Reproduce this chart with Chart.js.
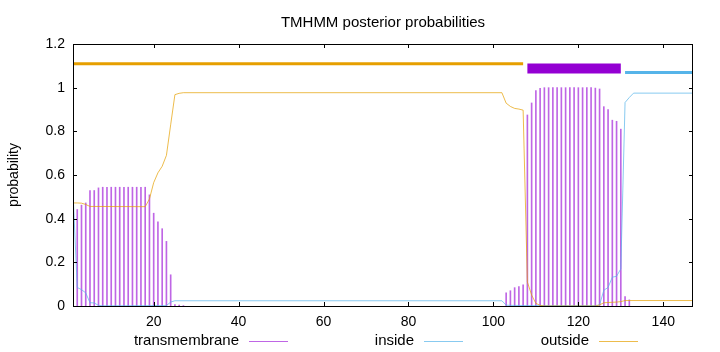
<!DOCTYPE html>
<html>
<head>
<meta charset="utf-8">
<script src="https://cdn.jsdelivr.net/npm/chart.js"></script>
<style>
  html, body { margin: 0; padding: 0; background: #fff; }
  canvas { display: block; }
</style>
</head>
<body>
<canvas id="c" width="720" height="352"></canvas>
<script>
// residue positions and transmembrane posterior (drawn as impulses)
const tmRes = [2, 3, 4, 5, 6, 7, 8, 9, 10, 11, 12, 13, 14, 15, 16, 17, 18, 19, 20, 21, 22, 23, 24, 25, 26, 27,
  103, 104, 105, 106, 107, 108, 109, 110, 111, 112, 113, 114, 115, 116, 117, 118, 119, 120, 121, 122, 123,
  124, 125, 126, 127, 128, 129, 130, 131, 132];
const tmProb = [0.442, 0.462, 0.472, 0.529, 0.529, 0.541, 0.544, 0.544, 0.544, 0.544, 0.544, 0.544, 0.544,
  0.544, 0.544, 0.544, 0.544, 0.509, 0.425, 0.385, 0.354, 0.296, 0.143, 0.006, 0.004, 0.002,
  0.06, 0.07, 0.084, 0.089, 0.097, 0.875, 0.93, 0.987, 0.997, 1.0, 1.0, 1.0, 1.0, 1.0, 1.0, 1.0, 1.0, 1.0,
  1.0, 1.0, 1.0, 0.998, 0.994, 0.913, 0.9, 0.851, 0.846, 0.81, 0.043, 0.028];

// inside posterior
const inRes = [1, 2, 3, 4, 5, 6, 7, 8, 23, 24, 25, 102, 103, 104, 108, 124, 125, 126, 127, 128, 129, 130, 131, 132, 133, 147];
const inProb = [0.52, 0.085, 0.075, 0.06, 0.015, 0.014, 0.003, 0.001, 0.002, 0.018, 0.024, 0.024, 0.004, 0.003,
  0.002, 0.002, 0.005, 0.072, 0.085, 0.132, 0.136, 0.17, 0.932, 0.955, 0.975, 0.975];

// outside posterior
const outRes = [1, 2, 3, 4, 5, 18, 19, 20, 21, 22, 23, 24, 25, 26, 27, 102, 103, 104, 105, 106, 107, 108, 109,
  110, 111, 112, 124, 125, 126, 127, 128, 129, 130, 131, 147];
const outProb = [0.472, 0.472, 0.471, 0.465, 0.456, 0.455, 0.49, 0.565, 0.61, 0.64, 0.69, 0.83, 0.968, 0.974,
  0.977, 0.977, 0.929, 0.914, 0.905, 0.902, 0.897, 0.11, 0.05, 0.012, 0.003, 0.0, 0.0, 0.005, 0.015, 0.016,
  0.017, 0.018, 0.02, 0.025, 0.025];

// predicted topology segments [start, end]
const outsideSeg = [1, 107];
const tmSeg = [108, 130];
const insideSeg = [131, 147];
const segLevel = { outside: 1.109, tm: 1.088, inside: 1.069 };

const xTicks = [20, 40, 60, 80, 100, 120, 140];
const yTicks = [0, 0.2, 0.4, 0.6, 0.8, 1, 1.2];
const legendNames = ['transmembrane', 'inside', 'outside'];

const FONT = '"Liberation Sans", Arial, sans-serif';
const cTM = 'rgba(148,0,211,0.6)';
const cIn = 'rgba(86,180,233,0.7)';
const cOut = 'rgba(230,159,0,0.7)';

const pts = (xs, ys) => xs.map((x, i) => ({ x, y: ys[i] }));
const seg = (s, y) => [{ x: s[0], y }, { x: s[1], y }];

const frame = {
  id: 'frame',
  afterDraw(chart) {
    const { ctx, chartArea: a, scales } = chart;
    ctx.save();
    // border
    ctx.strokeStyle = '#000';
    ctx.lineWidth = 1;
    ctx.strokeRect(a.left + 0.5, a.top + 0.5, a.right - a.left - 1, a.bottom - a.top);
    // inward ticks, mirrored
    ctx.beginPath();
    xTicks.forEach(v => {
      const x = Math.round(scales.x.getPixelForValue(v)) + 0.5;
      ctx.moveTo(x, a.bottom); ctx.lineTo(x, a.bottom - 4);
      ctx.moveTo(x, a.top); ctx.lineTo(x, a.top + 4);
    });
    yTicks.forEach(v => {
      const y = Math.round(scales.y.getPixelForValue(v)) + 0.5;
      ctx.moveTo(a.left, y); ctx.lineTo(a.left + 4, y);
      ctx.moveTo(a.right, y); ctx.lineTo(a.right - 4, y);
    });
    ctx.stroke();

    ctx.fillStyle = '#000';
    ctx.textBaseline = 'middle';
    // title
    ctx.font = '15px ' + FONT;
    ctx.textAlign = 'center';
    ctx.fillText('TMHMM posterior probabilities', (a.left + a.right) / 2, 23);
    // y label
    ctx.font = '14px ' + FONT;
    ctx.save();
    ctx.translate(14, (a.top + a.bottom) / 2);
    ctx.rotate(-Math.PI / 2);
    ctx.fillText('probability', 0, 0);
    ctx.restore();
    // legend (text then sample, gnuplot style)
    ctx.font = '15px ' + FONT;
    const items = [
      { x: 249, c: cTM },
      { x: 424, c: cIn },
      { x: 599, c: cOut }
    ];
    ctx.textAlign = 'right';
    items.forEach((it, i) => {
      ctx.fillStyle = '#000';
      ctx.fillText(legendNames[i], it.x - 10, 341);
      ctx.strokeStyle = it.c;
      ctx.beginPath();
      ctx.moveTo(it.x, 341.5); ctx.lineTo(it.x + 39, 341.5);
      ctx.stroke();
    });
    ctx.restore();
  }
};

new Chart(document.getElementById('c'), {
  data: {
    datasets: [
      { type: 'line', data: seg(outsideSeg, segLevel.outside), borderColor: '#e69f00', borderWidth: 3, pointRadius: 0, borderCapStyle: 'butt' },
      { type: 'line', data: seg(tmSeg, segLevel.tm), borderColor: '#9400d3', borderWidth: 10, pointRadius: 0, borderCapStyle: 'butt' },
      { type: 'line', data: seg(insideSeg, segLevel.inside), borderColor: '#56b4e9', borderWidth: 3, pointRadius: 0, borderCapStyle: 'butt' },
      { type: 'line', data: pts(outRes, outProb), borderColor: cOut, borderWidth: 1, pointRadius: 0, tension: 0 },
      { type: 'line', data: pts(inRes, inProb), borderColor: cIn, borderWidth: 1, pointRadius: 0, tension: 0 },
      { type: 'bar', data: pts(tmRes, tmProb), backgroundColor: cTM, barThickness: 1, grouped: false }
    ]
  },
  options: {
    responsive: false,
    animation: false,
    layout: { padding: { left: 0, right: 27, top: 44, bottom: 0 } },
    plugins: { legend: { display: false }, title: { display: false }, tooltip: { enabled: false } },
    scales: {
      x: {
        type: 'linear', min: 1, max: 147, offset: false,
        grid: { display: false, drawTicks: false }, border: { display: false },
        afterBuildTicks: s => { s.ticks = xTicks.map(v => ({ value: v })); },
        afterFit: s => { s.height = 46; },
        ticks: { color: '#000', font: { family: FONT, size: 14 }, padding: 8, maxRotation: 0 }
      },
      y: {
        min: 0, max: 1.2,
        grid: { display: false, drawTicks: false }, border: { display: false },
        afterBuildTicks: s => { s.ticks = yTicks.map(v => ({ value: v })); },
        afterFit: s => { s.width = 73; },
        ticks: { color: '#000', font: { family: FONT, size: 14 }, padding: 8, callback: v => String(+v.toFixed(1)) }
      }
    }
  },
  plugins: [frame]
});
</script>
</body>
</html>
